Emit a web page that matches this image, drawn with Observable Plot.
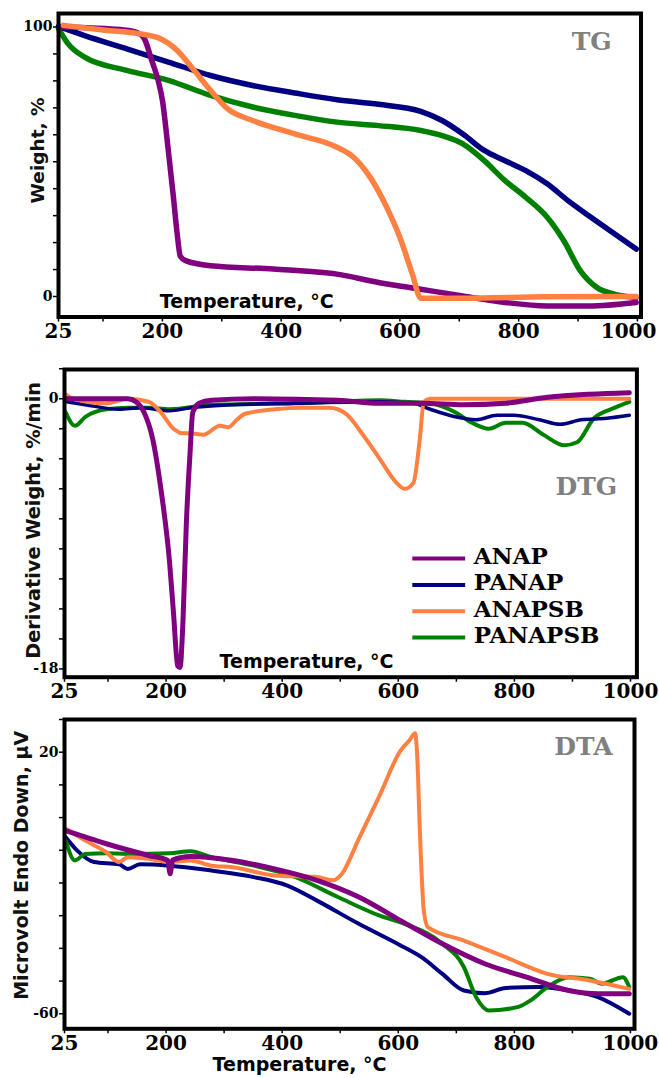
<!DOCTYPE html>
<html><head><meta charset="utf-8">
<script src="https://cdn.jsdelivr.net/npm/d3@7"></script>
<script src="https://cdn.jsdelivr.net/npm/@observablehq/plot@0.6"></script>
<style>
body{margin:0;background:#fff;width:659px;height:1078px;overflow:hidden}
#chart svg{display:block}
</style>
</head><body><div id="chart"></div>
<script>
// ---- data (temperature °C, value) ----
const seriesNames = ["ANAP", "PANAP", "ANAPSB", "PANAPSB"];
const seriesColors = ["#800080", "#000080", "#ff8040", "#008000"];

const xTicks = [25, 100, 200, 300, 400, 500, 600, 700, 800, 900, 1000];
const xTickLabels = [25, 200, 400, 600, 800, 1000];

// TG: Weight, %
const tgANAP = [[30,100],[104,99.4],[140,98.8],[161,97.5],[170,95.5],[182,87.6],[193,80],[200,72.8],[210,54],[218,38],[225,23],[230,15],[239,13.3],[281,11.4],[387,10.2],[494,8.3],[564,5.2],[635,2.7],[706,0.2],[777,-2.2],[848,-3.5],[918,-3.5],[998,-2.2]];
const tgPANAP = [[25,100.2],[69,96.8],[140,91.9],[210,87],[281,82],[352,78.3],[423,75.5],[494,73],[564,71.3],[635,68.7],[671,65.3],[706,60.3],[742,54.2],[777,50.4],[812,46.7],[848,41.8],[883,35.6],[918,30],[954,24.4],[998,17.6]];
const tgANAPSB = [[33,100.6],[104,98.8],[161,97.5],[196,95.7],[225,91.3],[253,84],[281,76.5],[310,69.6],[352,65.3],[423,60.3],[494,55.4],[522,51.7],[550,44.2],[578,33],[600,21.9],[621,8.3],[635,-0.6],[706,-0.6],[848,-0.1],[998,0]];
const tgPANAPSB = [[25,99.4],[41,93.8],[69,88.8],[140,83.9],[210,80.2],[281,74.6],[352,70.3],[423,67.2],[494,64.7],[564,63.4],[635,61.6],[671,59.7],[706,56.6],[742,50.4],[777,43],[812,36.8],[848,29.4],[876,20.7],[904,9.5],[932,3.3],[961,0.9],[998,-0.4]];
const tgYTicks = [0,10,20,30,40,50,60,70,80,90,100];
const tgYTickLabels = [0, 100];

// DTG: Derivative Weight, %/min
const dtgANAP = [[29,0],[97,0],[134,0],[148,-0.2],[162,-0.9],[177,-2.7],[191,-6],[206,-10.9],[213,-14.4],[220,-17.8],[224,-17.9],[229,-14.9],[235,-8.2],[241,-3.8],[246,-0.9],[257,-0.3],[278,-0.1],[351,0],[496,-0.1],[568,-0.3],[640,-0.3],[713,-0.4],[785,-0.3],[857,0.1],[930,0.3],[998,0.4]];
const dtgPANAP = [[29,-0.2],[61,-0.4],[119,-0.7],[155,-0.6],[206,-0.8],[242,-0.6],[315,-0.4],[423,-0.3],[568,-0.2],[626,-0.3],[655,-0.7],[698,-1.2],[734,-1.4],[770,-1.1],[799,-1.1],[843,-1.4],[879,-1.7],[915,-1.4],[959,-1.3],[998,-1.1]];
const dtgANAPSB = [[27,0.3],[40,0],[97,-0.3],[134,0],[170,-0.2],[191,-0.9],[213,-2],[228,-2.3],[242,-2.3],[264,-2.4],[293,-1.8],[307,-1.9],[322,-1.4],[336,-1],[387,-0.7],[438,-0.6],[481,-0.6],[510,-1],[539,-2.4],[568,-4],[597,-5.6],[611,-6],[626,-5.6],[637,-2.7],[644,-0.2],[655,0],[857,0],[998,0]];
const dtgPANAPSB = [[27,-0.9],[43,-1.8],[61,-1.2],[97,-0.7],[134,-0.6],[170,-0.6],[206,-0.7],[278,-0.4],[423,-0.3],[568,-0.1],[611,-0.2],[655,-0.3],[698,-0.9],[727,-1.6],[756,-2.0],[785,-1.6],[814,-1.6],[850,-2.4],[886,-3.1],[908,-2.9],[937,-1.3],[966,-0.7],[998,-0.2]];
const dtgYTicks = [-18,-16,-14,-12,-10,-8,-6,-4,-2,0,2];
const dtgYTickLabels = [-18, 0];

// DTA: Microvolt Endo Down, µV
const dtaANAP = [[27,-4],[97,-8],[170,-11.6],[203,-13.1],[207,-17.2],[211,-13],[242,-11.9],[315,-13.1],[387,-15.7],[460,-19.2],[532,-24.3],[604,-31.5],[676,-38.6],[749,-44.7],[821,-48.8],[894,-52.9],[944,-53.9],[998,-53.9]];
const dtaPANAP = [[27,-6],[47,-10.1],[76,-13.6],[119,-14.3],[134,-15.7],[155,-14.3],[206,-14.7],[278,-16.2],[351,-18.2],[409,-20.8],[460,-25.4],[532,-32.5],[604,-39.1],[640,-42.7],[676,-47.8],[713,-52.9],[749,-53.7],[785,-52.1],[843,-51.8],[894,-52.9],[944,-54.9],[998,-60]];
const dtaANAPSB = [[27,-3.4],[61,-7],[97,-10.6],[119,-13.6],[134,-12.1],[170,-12.6],[206,-13.6],[242,-13.1],[278,-14.7],[315,-15.2],[387,-17.7],[460,-18.2],[488,-19.2],[503,-17.2],[532,-6.5],[568,6.8],[604,20.5],[619,23.6],[629,25.8],[633,17.5],[637,-2.9],[644,-28.4],[651,-33.5],[713,-37.6],[785,-42.7],[857,-47.8],[930,-49.8],[998,-52.4]];
const dtaPANAPSB = [[27,-7],[43,-13.1],[61,-11.1],[97,-10.9],[134,-11.1],[206,-10.9],[242,-10.3],[278,-12.1],[351,-14.7],[423,-18.2],[496,-24.3],[568,-30],[611,-32.5],[676,-38.6],[713,-45.7],[734,-54.9],[756,-59],[807,-57.9],[828,-55.9],[857,-51.8],[894,-48.8],[930,-49.3],[951,-50.8],[987,-48.8],[998,-51.8]];
const dtaYTicks = [-60,-50,-40,-30,-20,-10,0,10,20,30];
const dtaYTickLabels = [-60, 20];

// ---- rendering ----
const serif = "'DejaVu Serif', serif";
const sans = "'DejaVu Sans', Verdana, sans-serif";
const tickFont = {fontSize: 20, fontFamily: serif, fontWeight: "bold", fill: "#000"};

// lastAnchorEnd: draw the last x tick label right-aligned so it stays inside the page
function axes(yTicks, yLabels, lastAnchorEnd) {
  const lastLabel = xTickLabels[xTickLabels.length - 1];
  const marks = [
    Plot.axisX({ticks: xTicks,
      tickFormat: d => (xTickLabels.includes(d) && !(lastAnchorEnd && d === lastLabel)) ? String(d) : "",
      tickSize: 5, tickPadding: 2, label: null, ...tickFont, stroke: "#000", strokeWidth: 1.5}),
    Plot.axisY({ticks: yTicks, tickFormat: d => yLabels.includes(d) ? String(d) : "",
      tickSize: 5, tickPadding: 1, label: null, fontSize: 14, fontFamily: serif, fontWeight: "bold",
      stroke: "#000", strokeWidth: 1.5})
  ];
  if (lastAnchorEnd) {
    marks.push(Plot.text([lastLabel], {x: d => d, frameAnchor: "bottom", text: d => String(d),
      textAnchor: "end", lineAnchor: "top", dx: 19, dy: 7, ...tickFont}));
  }
  return marks;
}

function lines(arrs, order, width) {
  return order.map(i => Plot.line(arrs[i], {x: d => d[0], y: d => d[1], stroke: seriesColors[i],
    strokeWidth: Array.isArray(width) ? width[i] : width, curve: "monotone-x", strokeLinejoin: "round", strokeLinecap: "round"}));
}

function panelTitle(text, x, y) {
  return Plot.text([text], {x: () => x, y: () => y, text: d => d, fontSize: 25, fontFamily: serif,
    fontWeight: "bold", fill: "#808080", textAnchor: "middle", lineAnchor: "middle"});
}

function yLabel(text, yCenter, dx, size) {
  return Plot.text([text], {frameAnchor: "left", y: () => yCenter, text: d => d, rotate: -90, dx,
    fontSize: size, fontFamily: sans, fontWeight: "bold", fill: "#111", textAnchor: "middle", lineAnchor: "middle"});
}

function tempLabel(xCenter, dy) {
  return Plot.text(["Temperature, °C"], {frameAnchor: "bottom", x: () => xCenter, text: d => d, dy,
    fontSize: 19, fontFamily: sans, fontWeight: "bold", fill: "#000", textAnchor: "middle", lineAnchor: "middle"});
}

const chart = document.getElementById("chart");

// TG
chart.append(Plot.plot({
  width: 659, height: 350, marginLeft: 58, marginRight: 18.5, marginTop: 13, marginBottom: 33.5,
  x: {domain: [25, 1006], axis: null}, y: {domain: [-7.6, 105], axis: null},
  style: {background: "#fff", overflow: "visible"},
  marks: [
    ...axes(tgYTicks, tgYTickLabels, true),
    ...lines([tgANAP, tgPANAP, tgANAPSB, tgPANAPSB], [3, 1, 0, 2], 5.5),
    Plot.frame({stroke: "#000", strokeWidth: 4}),
    panelTitle("TG", 923, 94.4),
    yLabel("Weight, %", 54.2, -20.5, 18.5),
    tempLabel(342, -15.2)
  ]
}));

// DTG
const legendRows = seriesNames.map((name, i) => ({name, color: seriesColors[i], i}));
chart.append(Plot.plot({
  width: 659, height: 352, marginLeft: 64, marginRight: 22.6, marginTop: 19, marginBottom: 25.3,
  x: {domain: [25, 1011], axis: null}, y: {domain: [-18.55, 1.95], axis: null},
  style: {background: "#fff", overflow: "visible"},
  marks: [
    ...axes(dtgYTicks, dtgYTickLabels, false),
    ...lines([dtgANAP, dtgPANAP, dtgANAPSB, dtgPANAPSB], [3, 1, 2, 0], [5, 3.5, 4, 4]),
    Plot.frame({stroke: "#000", strokeWidth: 4}),
    panelTitle("DTG", 924, -5.9),
    yLabel("Derivative Weight, %/min", -8.1, -31, 19.3),
    tempLabel(442, -15.4),
    Plot.ruleY(legendRows, {y: d => -10.65 - 1.75 * d.i, x1: 625, x2: 716, stroke: d => d.color, strokeWidth: 4}),
    Plot.text(legendRows, {y: d => -10.65 - 1.75 * d.i, x: 730, text: d => d.name, textAnchor: "start",
      lineAnchor: "middle", dy: -2, fontSize: 23, fontFamily: serif, fontWeight: "bold", fill: "#000"})
  ]
}));

// DTA
chart.append(Plot.plot({
  width: 659, height: 376, marginLeft: 64, marginRight: 25, marginTop: 17, marginBottom: 49.7,
  x: {domain: [25, 1007], axis: null}, y: {domain: [-64.6, 30], axis: null},
  style: {background: "#fff", overflow: "visible"},
  marks: [
    ...axes(dtaYTicks, dtaYTickLabels, false),
    ...lines([dtaANAP, dtaPANAP, dtaANAPSB, dtaPANAPSB], [1, 3, 2, 0], [5, 4, 4, 4]),
    Plot.frame({stroke: "#000", strokeWidth: 4}),
    panelTitle("DTA", 919, 21.7),
    yLabel("Microvolt Endo Down, µV", -14.6, -43, 19),
    tempLabel(430, 36.3)
  ]
}));
</script>
</body></html>
